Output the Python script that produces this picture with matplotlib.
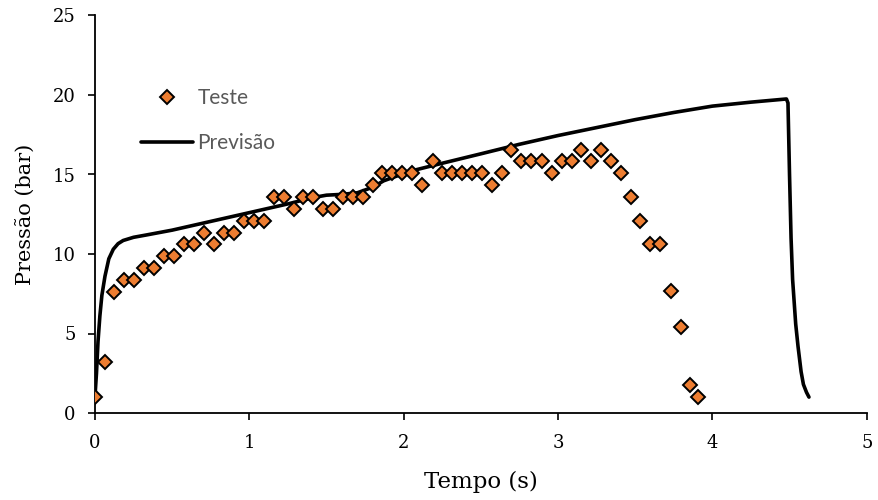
import matplotlib
matplotlib.use("Agg")
import matplotlib.pyplot as plt

# Teste (measured) data
teste_t = [0.000, 0.065, 0.125, 0.190, 0.255, 0.320, 0.385, 0.450, 0.514, 0.579,
           0.644, 0.709, 0.773, 0.838, 0.899, 0.964, 1.029, 1.093, 1.158, 1.223,
           1.288, 1.348, 1.413, 1.478, 1.543, 1.607, 1.672, 1.737, 1.802, 1.860,
           1.925, 1.990, 2.055, 2.119, 2.189, 2.249, 2.314, 2.378, 2.443, 2.508,
           2.573, 2.637, 2.698, 2.763, 2.828, 2.897, 2.962, 3.027, 3.092, 3.150,
           3.215, 3.280, 3.344, 3.409, 3.470, 3.534, 3.599, 3.664, 3.729, 3.794,
           3.858, 3.910]
teste_p = [1.0, 3.2, 7.6, 8.35, 8.35, 9.1, 9.1, 9.85, 9.85, 10.6,
           10.6, 11.35, 10.6, 11.35, 11.35, 12.1, 12.1, 12.1, 13.6, 13.6,
           12.8, 13.6, 13.6, 12.8, 12.8, 13.6, 13.6, 13.6, 14.35, 15.1,
           15.1, 15.1, 15.1, 14.35, 15.85, 15.1, 15.1, 15.1, 15.1, 15.1,
           14.35, 15.1, 16.55, 15.85, 15.85, 15.85, 15.1, 15.85, 15.85, 16.55,
           15.85, 16.55, 15.85, 15.1, 13.6, 12.1, 10.6, 10.6, 7.65, 5.4,
           1.75, 1.0]

# Previsao (prediction) curve
prev_t = [0.0, 0.01, 0.02, 0.032, 0.045, 0.065, 0.09, 0.119, 0.15, 0.183,
          0.25, 0.335, 0.5, 0.75, 1.0, 1.25, 1.414, 1.5, 1.6, 1.7,
          1.8, 1.87, 2.04, 2.23, 2.5, 2.75, 3.0, 3.25, 3.5, 3.75,
          4.0, 4.25, 4.48, 4.49, 4.5, 4.51, 4.52, 4.54, 4.555, 4.575,
          4.59, 4.61, 4.626]
prev_p = [1.0, 2.5, 4.5, 6.1, 7.4, 8.6, 9.7, 10.3, 10.65, 10.85,
          11.05, 11.2, 11.5, 12.05, 12.6, 13.15, 13.55, 13.7, 13.75, 13.85,
          14.2, 14.6, 15.2, 15.66, 16.3, 16.9, 17.45, 17.95, 18.45, 18.9,
          19.3, 19.55, 19.75, 19.5, 15.0, 11.0, 8.4, 5.6, 4.2, 2.6,
          1.8, 1.3, 1.0]

x_ticks = [0, 1, 2, 3, 4, 5]
y_ticks = [0, 5, 10, 15, 20, 25]

fig = plt.figure(figsize=(8.79, 5.0), dpi=100)
ax = fig.add_axes([0.108, 0.174, 0.878, 0.795])

serif = "DejaVu Serif"

ax.plot(prev_t, prev_p, color="black", lw=2.6, solid_joinstyle="round",
        solid_capstyle="round", label="Previsão", zorder=2)
ax.plot(teste_t, teste_p, ls="none", marker="D", markersize=7.6,
        markerfacecolor="#ED7D31", markeredgecolor="black", markeredgewidth=1.4,
        label="Teste", zorder=3)

ax.set_xlim(0, 5)
ax.set_ylim(0, 25)
ax.set_xticks(x_ticks)
ax.set_yticks(y_ticks)
for s in ["top", "right"]:
    ax.spines[s].set_visible(False)
for s in ["left", "bottom"]:
    ax.spines[s].set_linewidth(1.3)
ax.tick_params(direction="out", length=5, width=1.2, labelsize=13)
ax.tick_params(axis="x", pad=10)
ax.tick_params(axis="y", pad=9)
for lab in ax.get_xticklabels() + ax.get_yticklabels():
    lab.set_fontfamily(serif)

ax.set_xlabel("Tempo (s)", fontsize=16.5, fontfamily=serif, labelpad=14)
ax.set_ylabel("Pressão (bar)", fontsize=15, fontfamily=serif, labelpad=13)

handles, labels = ax.get_legend_handles_labels()
leg = ax.legend(handles[::-1], labels[::-1], loc="upper left",
                bbox_to_anchor=(0.035, 0.864), frameon=False,
                handlelength=2.5, handletextpad=0.22, labelspacing=1.2,
                prop={"family": "Lato", "size": 15})
for t in leg.get_texts():
    t.set_color("#595959")

fig.savefig("out.png", dpi=100)
